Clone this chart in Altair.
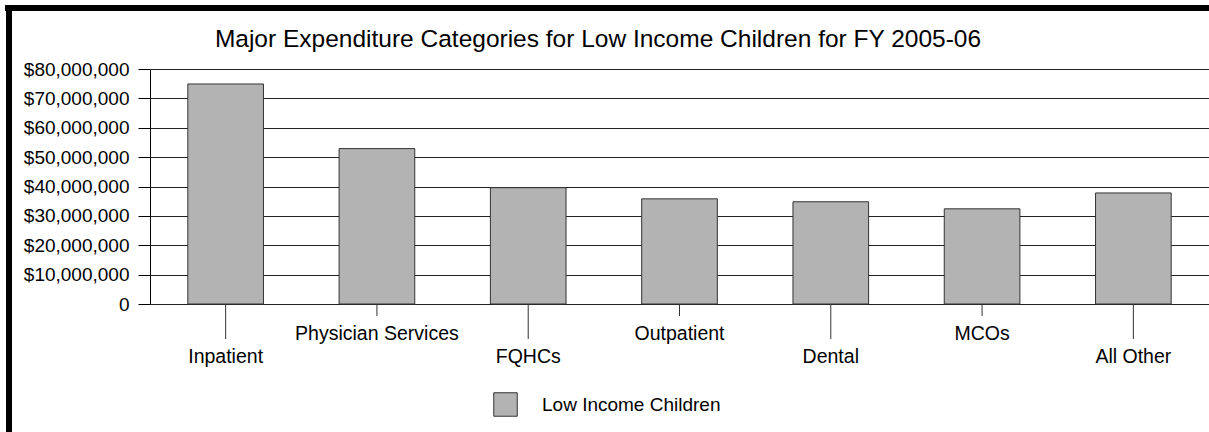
import altair as alt
import pandas as pd

categories = ["Inpatient", "Physician Services", "FQHCs", "Outpatient", "Dental", "MCOs", "All Other"]
values = [74900000, 52900000, 39600000, 35800000, 34800000, 32400000, 37800000]
series_name = "Low Income Children"
y_ticks = [0, 10000000, 20000000, 30000000, 40000000, 50000000, 60000000, 70000000, 80000000]
title_text = "Major Expenditure Categories for Low Income Children for FY 2005-06"

df = pd.DataFrame({"category": categories, "value": values, "series": [series_name] * len(categories)})
title_df = pd.DataFrame({"title": [title_text]})

FONT = "Liberation Sans"
FS = 19
FSX = 19.5
W, H = 1059, 235

x_enc = alt.X("category:N", sort=categories,
              scale=alt.Scale(paddingInner=0.5, paddingOuter=0.25), axis=None)

base = alt.Chart(df)

bars = base.mark_bar(stroke="#333333", strokeWidth=1).encode(
    x=x_enc,
    y=alt.Y("value:Q",
            scale=alt.Scale(domain=[0, 80000000], nice=False),
            axis=alt.Axis(values=y_ticks, title=None,
                          labelExpr="datum.value == 0 ? '0' : '$' + format(datum.value, ',')",
                          labelFont=FONT, labelFontSize=FS, labelColor="black",
                          labelPadding=9, tickSize=12, tickColor="black",
                          domainColor="black", grid=True, gridColor="#222222",
                          gridOpacity=1, gridWidth=1)),
    color=alt.Color("series:N",
                    scale=alt.Scale(domain=[series_name], range=["#b3b3b3"]),
                    legend=alt.Legend(orient="none", legendX=343, legendY=323,
                                      title=None, symbolType="square", symbolSize=552,
                                      symbolStrokeColor="#333333", symbolStrokeWidth=1,
                                      labelFont=FONT, labelFontSize=FS, labelColor="black",
                                      labelOffset=24, labelLimit=500, padding=0)),
)

indexed = base.transform_window(idx="row_number()")

ticks_long = indexed.transform_filter("datum.idx % 2 == 1").mark_rule(
    color="#333333", strokeWidth=1).encode(x=x_enc, y=alt.value(H), y2=alt.value(H + 35))
ticks_short = indexed.transform_filter("datum.idx % 2 == 0").mark_rule(
    color="#333333", strokeWidth=1).encode(x=x_enc, y=alt.value(H), y2=alt.value(H + 12))

labels_long = indexed.transform_filter("datum.idx % 2 == 1").mark_text(
    font=FONT, fontSize=FSX, color="black", baseline="alphabetic", align="center").encode(
    x=x_enc, y=alt.value(H + 59), text="category:N")
labels_short = indexed.transform_filter("datum.idx % 2 == 0").mark_text(
    font=FONT, fontSize=FSX, color="black", baseline="alphabetic", align="center").encode(
    x=x_enc, y=alt.value(H + 36), text="category:N")

title_mark = alt.Chart(title_df).mark_text(
    font=FONT, fontSize=24.5, color="black", baseline="alphabetic", align="center").encode(
    x=alt.value(448), y=alt.value(-22), text="title:N")

frame_top = base.mark_rule(color="black", strokeWidth=6).encode(
    x=alt.value(-145), x2=alt.value(W + 5), y=alt.value(-61))
frame_left = base.mark_rule(color="black", strokeWidth=6).encode(
    x=alt.value(-141), y=alt.value(-64), y2=alt.value(H + 140))

chart = alt.layer(bars, ticks_long, ticks_short, labels_long, labels_short,
                  title_mark, frame_top, frame_left).properties(
    width=W, height=H,
    autosize=alt.AutoSizeParams(type="none"),
    padding={"left": 150, "top": 69, "right": 0, "bottom": 128},
).configure_view(stroke=None).configure(background="white")

chart.save("out.html", embed_options={"renderer": "svg", "actions": False})
